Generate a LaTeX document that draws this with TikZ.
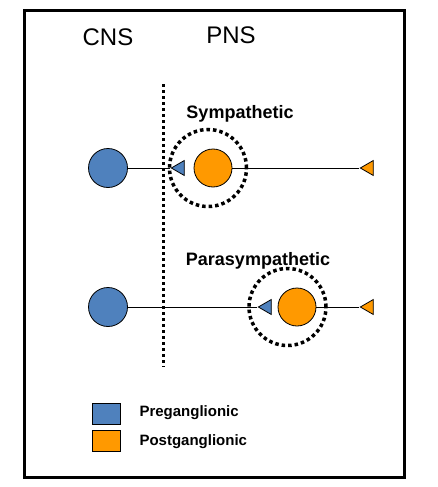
\documentclass[tikz,border=0pt]{standalone}
\usepackage{fontspec}
\setmainfont{Liberation Sans}
\usetikzlibrary{shapes.geometric}

\definecolor{preblue}{RGB}{79,129,189}
\definecolor{postorange}{RGB}{255,153,0}

\begin{document}
\begin{tikzpicture}[x=1pt,y=-1pt,
    pre/.style={draw,circle,thick,fill=preblue,minimum size=39pt,inner sep=0pt},
    post/.style={draw,circle,thick,fill=postorange,minimum size=38pt,inner sep=0pt},
    ganglion/.style={draw,circle,line width=3.5pt,dash pattern=on 3.5pt off 3pt,minimum width=77pt,minimum height=74pt,inner sep=0pt},
    ending/.style={draw,isosceles triangle,shape border rotate=180,isosceles triangle stretches,
        minimum width=15pt,minimum height=13pt,inner sep=0pt,line width=0.8pt},
    region/.style={font=\fontsize{24}{26}\selectfont},
    branch/.style={font=\bfseries\fontsize{18}{20}\selectfont},
    key/.style={draw,thick,minimum width=28pt,minimum height=21pt,inner sep=0pt},
    keylabel/.style={font=\bfseries\fontsize{15}{17}\selectfont,anchor=west}]

\useasboundingbox (0,0) rectangle (437,487);
\draw[line width=3pt] (24,11) rectangle (404,477);

\node[region] (cns) at (108,37) {CNS};
\node[region] (pns) at (231,35) {PNS};

% border between CNS and PNS
\coordinate (top) at (163,84);
\coordinate (bottom) at (163,367);
\draw[line width=3pt,dash pattern=on 3pt off 3pt] (top)--(bottom);

% sympathetic pathway
\node[branch] (symlabel) at (240,114) {Sympathetic};
\node[ganglion] (symgang) at (208,168) {};
\node[pre] (sympre) at (108,168) {};
\node[post] (sympost) at (213,168) {};
\node[ending,fill=preblue] (symsyn) at (180,168) {};
\node[ending,fill=postorange] (symend) at (369,168) {};
\draw (sympre)--(symsyn.apex);
\draw (sympost)--(symend.apex);

% parasympathetic pathway
\node[branch] (paralabel) at (258,261) {Parasympathetic};
\node[ganglion] (paragang) at (287.5,307) {};
\node[pre] (parapre) at (108,307) {};
\node[post] (parapost) at (297,307) {};
\node[ending,fill=preblue] (parasyn) at (267,307) {};
\node[ending,fill=postorange] (paraend) at (369,307) {};
\draw (parapre)--(parasyn.apex);
\draw (parapost)--(paraend.apex);

% legend
\node[key,fill=preblue] (keypre) at (106,413.5) {};
\node[key,fill=postorange] (keypost) at (106,441) {};
\node[keylabel] (prelabel) at (136,413) {Preganglionic};
\node[keylabel] (postlabel) at (136,442) {Postganglionic};

\end{tikzpicture}
\end{document}
